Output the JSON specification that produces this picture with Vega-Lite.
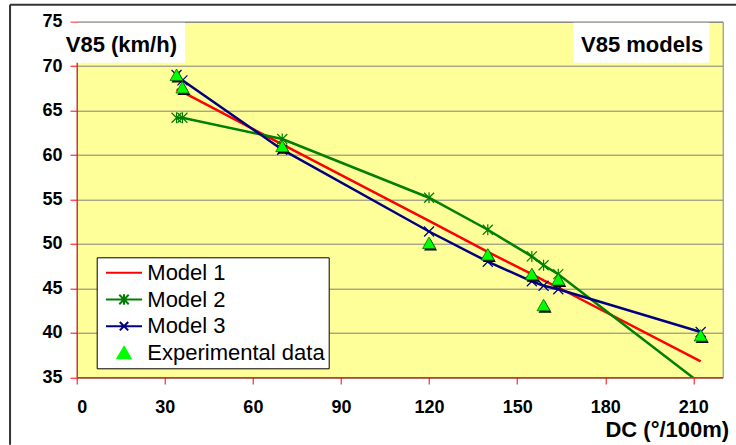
{
  "$schema": "https://vega.github.io/schema/vega-lite/v6.json",
  "width": 646,
  "height": 355.6,
  "autosize": {"type": "none"},
  "padding": {"left": 76.7, "top": 21.7, "right": 13.3, "bottom": 67.7},
  "background": "white",
  "config": {
    "view": {"fill": "#FFFF99", "stroke": "#808080", "strokeWidth": 1},
    "font": "Liberation Sans"
  },
  "datasets": {
    "models": [
      {"dc": 34, "v": 67.4, "series": "Model 1"},
      {"dc": 36, "v": 67.1, "series": "Model 1"},
      {"dc": 70, "v": 61.2, "series": "Model 1"},
      {"dc": 120, "v": 52.6, "series": "Model 1"},
      {"dc": 140, "v": 49.1, "series": "Model 1"},
      {"dc": 155, "v": 46.6, "series": "Model 1"},
      {"dc": 159, "v": 45.9, "series": "Model 1"},
      {"dc": 164, "v": 45.1, "series": "Model 1"},
      {"dc": 212.5, "v": 36.8, "series": "Model 1"},
      {"dc": 34, "v": 64.2, "series": "Model 2"},
      {"dc": 36, "v": 64.2, "series": "Model 2"},
      {"dc": 70, "v": 61.8, "series": "Model 2"},
      {"dc": 120, "v": 55.2, "series": "Model 2"},
      {"dc": 140, "v": 51.6, "series": "Model 2"},
      {"dc": 155, "v": 48.6, "series": "Model 2"},
      {"dc": 159, "v": 47.6, "series": "Model 2"},
      {"dc": 164, "v": 46.6, "series": "Model 2"},
      {"dc": 212.5, "v": 34.3, "series": "Model 2"},
      {"dc": 34, "v": 69.0, "series": "Model 3"},
      {"dc": 36, "v": 68.4, "series": "Model 3"},
      {"dc": 70, "v": 60.6, "series": "Model 3"},
      {"dc": 120, "v": 51.4, "series": "Model 3"},
      {"dc": 140, "v": 48.0, "series": "Model 3"},
      {"dc": 155, "v": 45.8, "series": "Model 3"},
      {"dc": 159, "v": 45.3, "series": "Model 3"},
      {"dc": 164, "v": 44.9, "series": "Model 3"},
      {"dc": 212.5, "v": 40.1, "series": "Model 3"}
    ],
    "exp": [
      {"dc": 34, "v": 69.0, "series": "Experimental data"},
      {"dc": 36, "v": 67.6, "series": "Experimental data"},
      {"dc": 70, "v": 61.0, "series": "Experimental data"},
      {"dc": 120, "v": 50.1, "series": "Experimental data"},
      {"dc": 140, "v": 48.8, "series": "Experimental data"},
      {"dc": 155, "v": 46.6, "series": "Experimental data"},
      {"dc": 159, "v": 43.1, "series": "Experimental data"},
      {"dc": 164, "v": 46.0, "series": "Experimental data"},
      {"dc": 212.5, "v": 39.7, "series": "Experimental data"}
    ]
  },
  "layer": [
    {
      "data": {"name": "models"},
      "mark": {"type": "line", "strokeWidth": 2.5, "clip": true},
      "encoding": {
        "x": {
          "field": "dc", "type": "quantitative",
          "scale": {"domain": [0, 220], "nice": false, "zero": false},
          "axis": {
            "values": [0, 30, 60, 90, 120, 150, 180, 210],
            "grid": false,
            "domainColor": "#FF0000", "domainWidth": 1,
            "tickColor": "#FF0000", "tickSize": 6.7, "tickWidth": 1,
            "labelFontSize": 18, "labelFontWeight": "bold", "labelColor": "black",
            "labelFont": "Liberation Sans", "labelPadding": 14.5,
            "title": "DC (°/100m)",
            "titleFont": "Liberation Sans", "titleFontSize": 22, "titleFontWeight": "bold",
            "titleColor": "black", "titleAlign": "right", "titleBaseline": "alphabetic",
            "titleX": 652, "titleY": 59.4
          }
        },
        "y": {
          "field": "v", "type": "quantitative",
          "scale": {"domain": [35, 75], "nice": false, "zero": false},
          "axis": {
            "values": [35, 40, 45, 50, 55, 60, 65, 70, 75],
            "grid": true, "gridColor": "#808080", "gridWidth": 1,
            "domainColor": "#FF0000", "domainWidth": 1,
            "tickColor": "#FF0000", "tickSize": 6.7, "tickWidth": 1,
            "labelFontSize": 18, "labelFontWeight": "bold", "labelColor": "black",
            "labelFont": "Liberation Sans", "labelPadding": 8,
            "title": null
          }
        },
        "color": {
          "field": "series", "type": "nominal",
          "scale": {
            "domain": ["Model 1", "Model 2", "Model 3", "Experimental data"],
            "range": ["#FF0000", "#008000", "#000080", "#00FF00"]
          },
          "legend": {
            "orient": "none", "legendX": 20, "legendY": 235.6,
            "title": null,
            "fillColor": "white", "strokeColor": "black",
            "padding": 4, "cornerRadius": 0,
            "labelFont": "Liberation Sans", "labelFontSize": 22, "labelColor": "black",
            "labelOffset": 11.8, "labelLimit": 400,
            "symbolSize": 441, "symbolStrokeWidth": 2, "symbolOpacity": 1,
            "symbolOffset": 11.8,
            "symbolType": {"expr": "datum.value === 'Model 1' ? 'M-1.714,0H1.714' : datum.value === 'Model 2' ? 'M-1.714,0H1.714M-0.45,-0.45L0.45,0.45M-0.45,0.45L0.45,-0.45M0,-0.5V0.5' : datum.value === 'Model 3' ? 'M-1.714,0H1.714M-0.4,-0.4L0.4,0.4M-0.4,0.4L0.4,-0.4' : 'M0,-0.55L0.62,0.5L-0.62,0.5Z'"},
            "symbolFillColor": {"expr": "datum.value === 'Experimental data' ? '#00FF00' : 'transparent'"},
            "rowPadding": 3.7
          }
        }
      }
    },
    {
      "data": {"name": "models"},
      "transform": [{"filter": "datum.series === 'Model 2'"}],
      "mark": {"type": "point", "filled": false, "color": "#008000", "strokeWidth": 1.2, "size": 100, "opacity": 1, "clip": true, "shape": "M-1,-1L1,1M-1,1L1,-1M0,-1.1V1.1"},
      "encoding": {
        "x": {"field": "dc", "type": "quantitative"},
        "y": {"field": "v", "type": "quantitative"}
      }
    },
    {
      "data": {"name": "models"},
      "transform": [{"filter": "datum.series === 'Model 3'"}],
      "mark": {"type": "point", "filled": false, "color": "#000080", "strokeWidth": 1.2, "size": 100, "opacity": 1, "clip": true, "shape": "M-1,-1L1,1M-1,1L1,-1"},
      "encoding": {
        "x": {"field": "dc", "type": "quantitative"},
        "y": {"field": "v", "type": "quantitative"}
      }
    },
    {
      "data": {"name": "exp"},
      "mark": {"type": "point", "filled": true, "color": "black", "shape": "M0,-1.2L1.3,1.1L-1.3,1.1Z", "size": 100, "opacity": 1, "xOffset": 1.5, "yOffset": 2, "clip": true},
      "encoding": {
        "x": {"field": "dc", "type": "quantitative"},
        "y": {"field": "v", "type": "quantitative"}
      }
    },
    {
      "data": {"name": "exp"},
      "mark": {"type": "point", "filled": true, "color": "#00FF00", "stroke": "#007000", "strokeWidth": 0.8, "shape": "M0,-1.2L1.3,1.1L-1.3,1.1Z", "size": 100, "opacity": 1, "clip": true},
      "encoding": {
        "x": {"field": "dc", "type": "quantitative"},
        "y": {"field": "v", "type": "quantitative"}
      }
    },
    {
      "data": {"values": [{}]},
      "mark": {"type": "rect", "fill": "white", "clip": false},
      "encoding": {
        "x": {"datum": -5.1, "type": "quantitative"},
        "x2": {"datum": 36.9},
        "y": {"datum": 74.89, "type": "quantitative"},
        "y2": {"datum": 70.39}
      }
    },
    {
      "data": {"values": [{}]},
      "mark": {"type": "rect", "fill": "white", "clip": false},
      "encoding": {
        "x": {"datum": 169.1, "type": "quantitative"},
        "x2": {"datum": 215.4},
        "y": {"datum": 74.89, "type": "quantitative"},
        "y2": {"datum": 70.39}
      }
    },
    {
      "data": {"values": [{}]},
      "mark": {"type": "text", "align": "left", "baseline": "alphabetic", "font": "Liberation Sans", "fontSize": 22, "fontWeight": "bold", "color": "black"},
      "encoding": {
        "x": {"datum": -3.74, "type": "quantitative"},
        "y": {"datum": 71.63, "type": "quantitative"},
        "text": {"value": "V85 (km/h)"}
      }
    },
    {
      "data": {"values": [{}]},
      "mark": {"type": "text", "align": "right", "baseline": "alphabetic", "font": "Liberation Sans", "fontSize": 22, "fontWeight": "bold", "color": "black"},
      "encoding": {
        "x": {"datum": 213.4, "type": "quantitative"},
        "y": {"datum": 71.63, "type": "quantitative"},
        "text": {"value": "V85 models"}
      }
    },
    {
      "data": {"values": [{}]},
      "mark": {"type": "rule", "color": "#333333", "strokeWidth": 2, "clip": false},
      "encoding": {
        "x": {"datum": -22.7, "type": "quantitative"},
        "y": {"datum": 76.91, "type": "quantitative"},
        "y2": {"datum": 27.4}
      }
    },
    {
      "data": {"values": [{}]},
      "mark": {"type": "rule", "color": "#333333", "strokeWidth": 2, "clip": false},
      "encoding": {
        "x": {"datum": -22.7, "type": "quantitative"},
        "x2": {"datum": 224.6},
        "y": {"datum": 76.91, "type": "quantitative"}
      }
    }
  ]
}
